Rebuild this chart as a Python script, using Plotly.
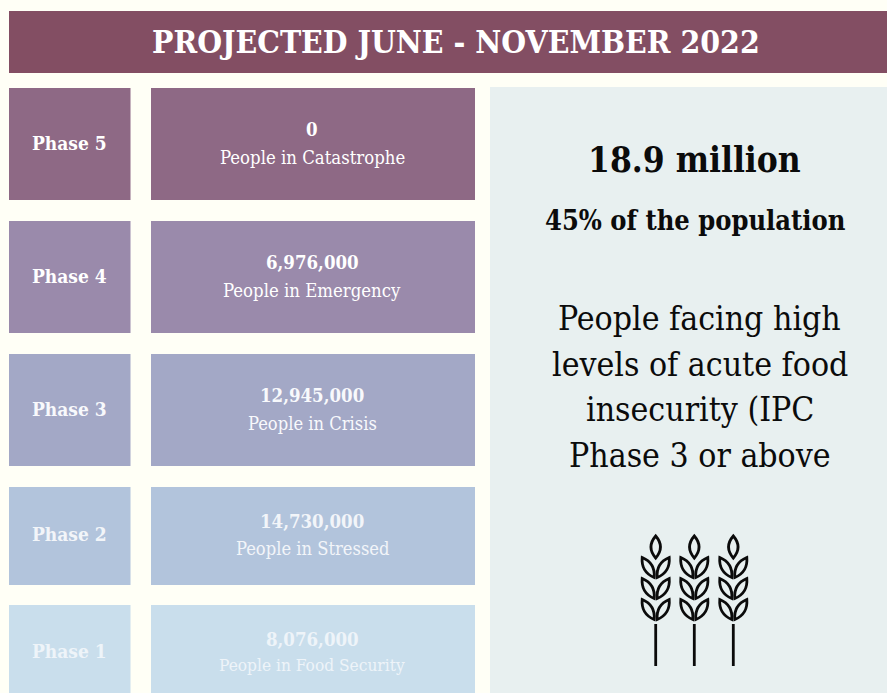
import plotly.graph_objects as go

# Phase table content
phases = ["Phase 5", "Phase 4", "Phase 3", "Phase 2", "Phase 1"]
people = [0, 6976000, 12945000, 14730000, 8076000]
descriptions = ["People in Catastrophe", "People in Emergency", "People in Crisis",
                "People in Stressed", "People in Food Security"]
fills = ["#8e6985", "#9a8aab", "#a3a8c6", "#b2c4dc", "#c9deec"]
text_colors = ["#ffffff", "#ffffff", "#f8f9fc", "#f2f5f9", "#eef4f9"]
row_tops = [88, 221, 354, 487, 605]
row_bottoms = [200, 333, 466, 585, 693]
name_y = [143, 276, 409, 534, 651]
value_y = [129, 262, 395, 521, 639]
description_y = [157, 290, 423, 548, 665]
description_size = [18.4, 18.4, 18.2, 18.2, 17.2]
title = "PROJECTED JUNE - NOVEMBER 2022"
headline = "18.9 million"
subhead = "45% of the population"
body_lines = ["People facing high", "levels of acute food", "insecurity (IPC", "Phase 3 or above"]
body_y = [318, 364, 409, 455]

SERIF = "DejaVu Serif Condensed, DejaVu Serif, serif"
INK = "#0b0b0b"

shapes = []
annotations = []


def box(x0, x1, y0, y1, color):
    shapes.append(dict(type="rect", xref="x", yref="y", x0=x0, x1=x1, y0=y0, y1=y1,
                       fillcolor=color, line_width=0, layer="below"))


def label(x, y, text, size, color="#ffffff", bold=False):
    annotations.append(dict(x=x, y=y, xref="x", yref="y", text=f"<b>{text}</b>" if bold else text,
                            showarrow=False, xanchor="center", yanchor="middle",
                            font=dict(family=SERIF, size=size, color=color)))


def leaf(x0, y0, x1, y1, bulge):
    # Closed leaf outline between two tips, bowed out by `bulge` on each side
    mx, my = (x0 + x1) / 2, (y0 + y1) / 2
    dx, dy = x1 - x0, y1 - y0
    length = (dx * dx + dy * dy) ** 0.5
    nx, ny = -dy / length * bulge, dx / length * bulge
    return (f"M{x0},{y0} Q{mx + nx},{my + ny} {x1},{y1} "
            f"Q{mx - nx},{my - ny} {x0},{y0} Z")


def wheat(cx):
    # One stalk: top grain, three pairs of side grains and the stem
    paths = [leaf(cx, 536, cx, 558, 9.5)]
    for step in range(3):
        top = 557.5 + step * 21
        paths.append(leaf(cx - 13.5, top, cx - 1.5, top + 20, 8.5))
        paths.append(leaf(cx + 13.5, top, cx + 1.5, top + 20, 8.5))
    for p in paths:
        shapes.append(dict(type="path", xref="x", yref="y", path=p,
                           line=dict(color=INK, width=2.8), fillcolor="rgba(0,0,0,0)"))
    shapes.append(dict(type="line", xref="x", yref="y", x0=cx, x1=cx, y0=624, y1=666,
                       line=dict(color=INK, width=2.8)))


# Header band and summary panel
box(9, 887, 11, 73, "#834e63")
box(490, 887, 87, 693, "#e8f0f0")
label(456, 41, title, 31.7, bold=True)

# One row per IPC phase
rows = zip(phases, people, descriptions, description_size, fills, text_colors,
           row_tops, row_bottoms, name_y, value_y, description_y)
for name, value, text, size, color, ink, top, bottom, ny, vy, dy in rows:
    box(9, 130.5, top, bottom, color)
    box(151, 475, top, bottom, color)
    label(69, ny, name, 19, ink, bold=True)
    label(312, vy, f"{value:,}", 18.5, ink, bold=True)
    label(312, dy, text, size, ink)

# Summary panel text
label(694.5, 159, headline, 35, INK, bold=True)
label(695, 220, subhead, 27, INK, bold=True)
for line, y in zip(body_lines, body_y):
    label(699.5, y, line, 33.5, INK)

for cx in (655.7, 694.3, 733.3):
    wheat(cx)

fig = go.Figure()
fig.add_trace(go.Scatter(x=[0, 887], y=[0, 693], mode="markers", marker_opacity=0,
                         hoverinfo="skip", showlegend=False))
fig.update_layout(
    width=887, height=693, margin=dict(l=0, r=0, t=0, b=0),
    paper_bgcolor="#fffff6", plot_bgcolor="#fffff6",
    xaxis=dict(range=[0, 887], visible=False, fixedrange=True),
    yaxis=dict(range=[693, 0], visible=False, fixedrange=True),
    shapes=shapes, annotations=annotations, showlegend=False,
)
fig.write_html("out.html", config=dict(displayModeBar=False))
